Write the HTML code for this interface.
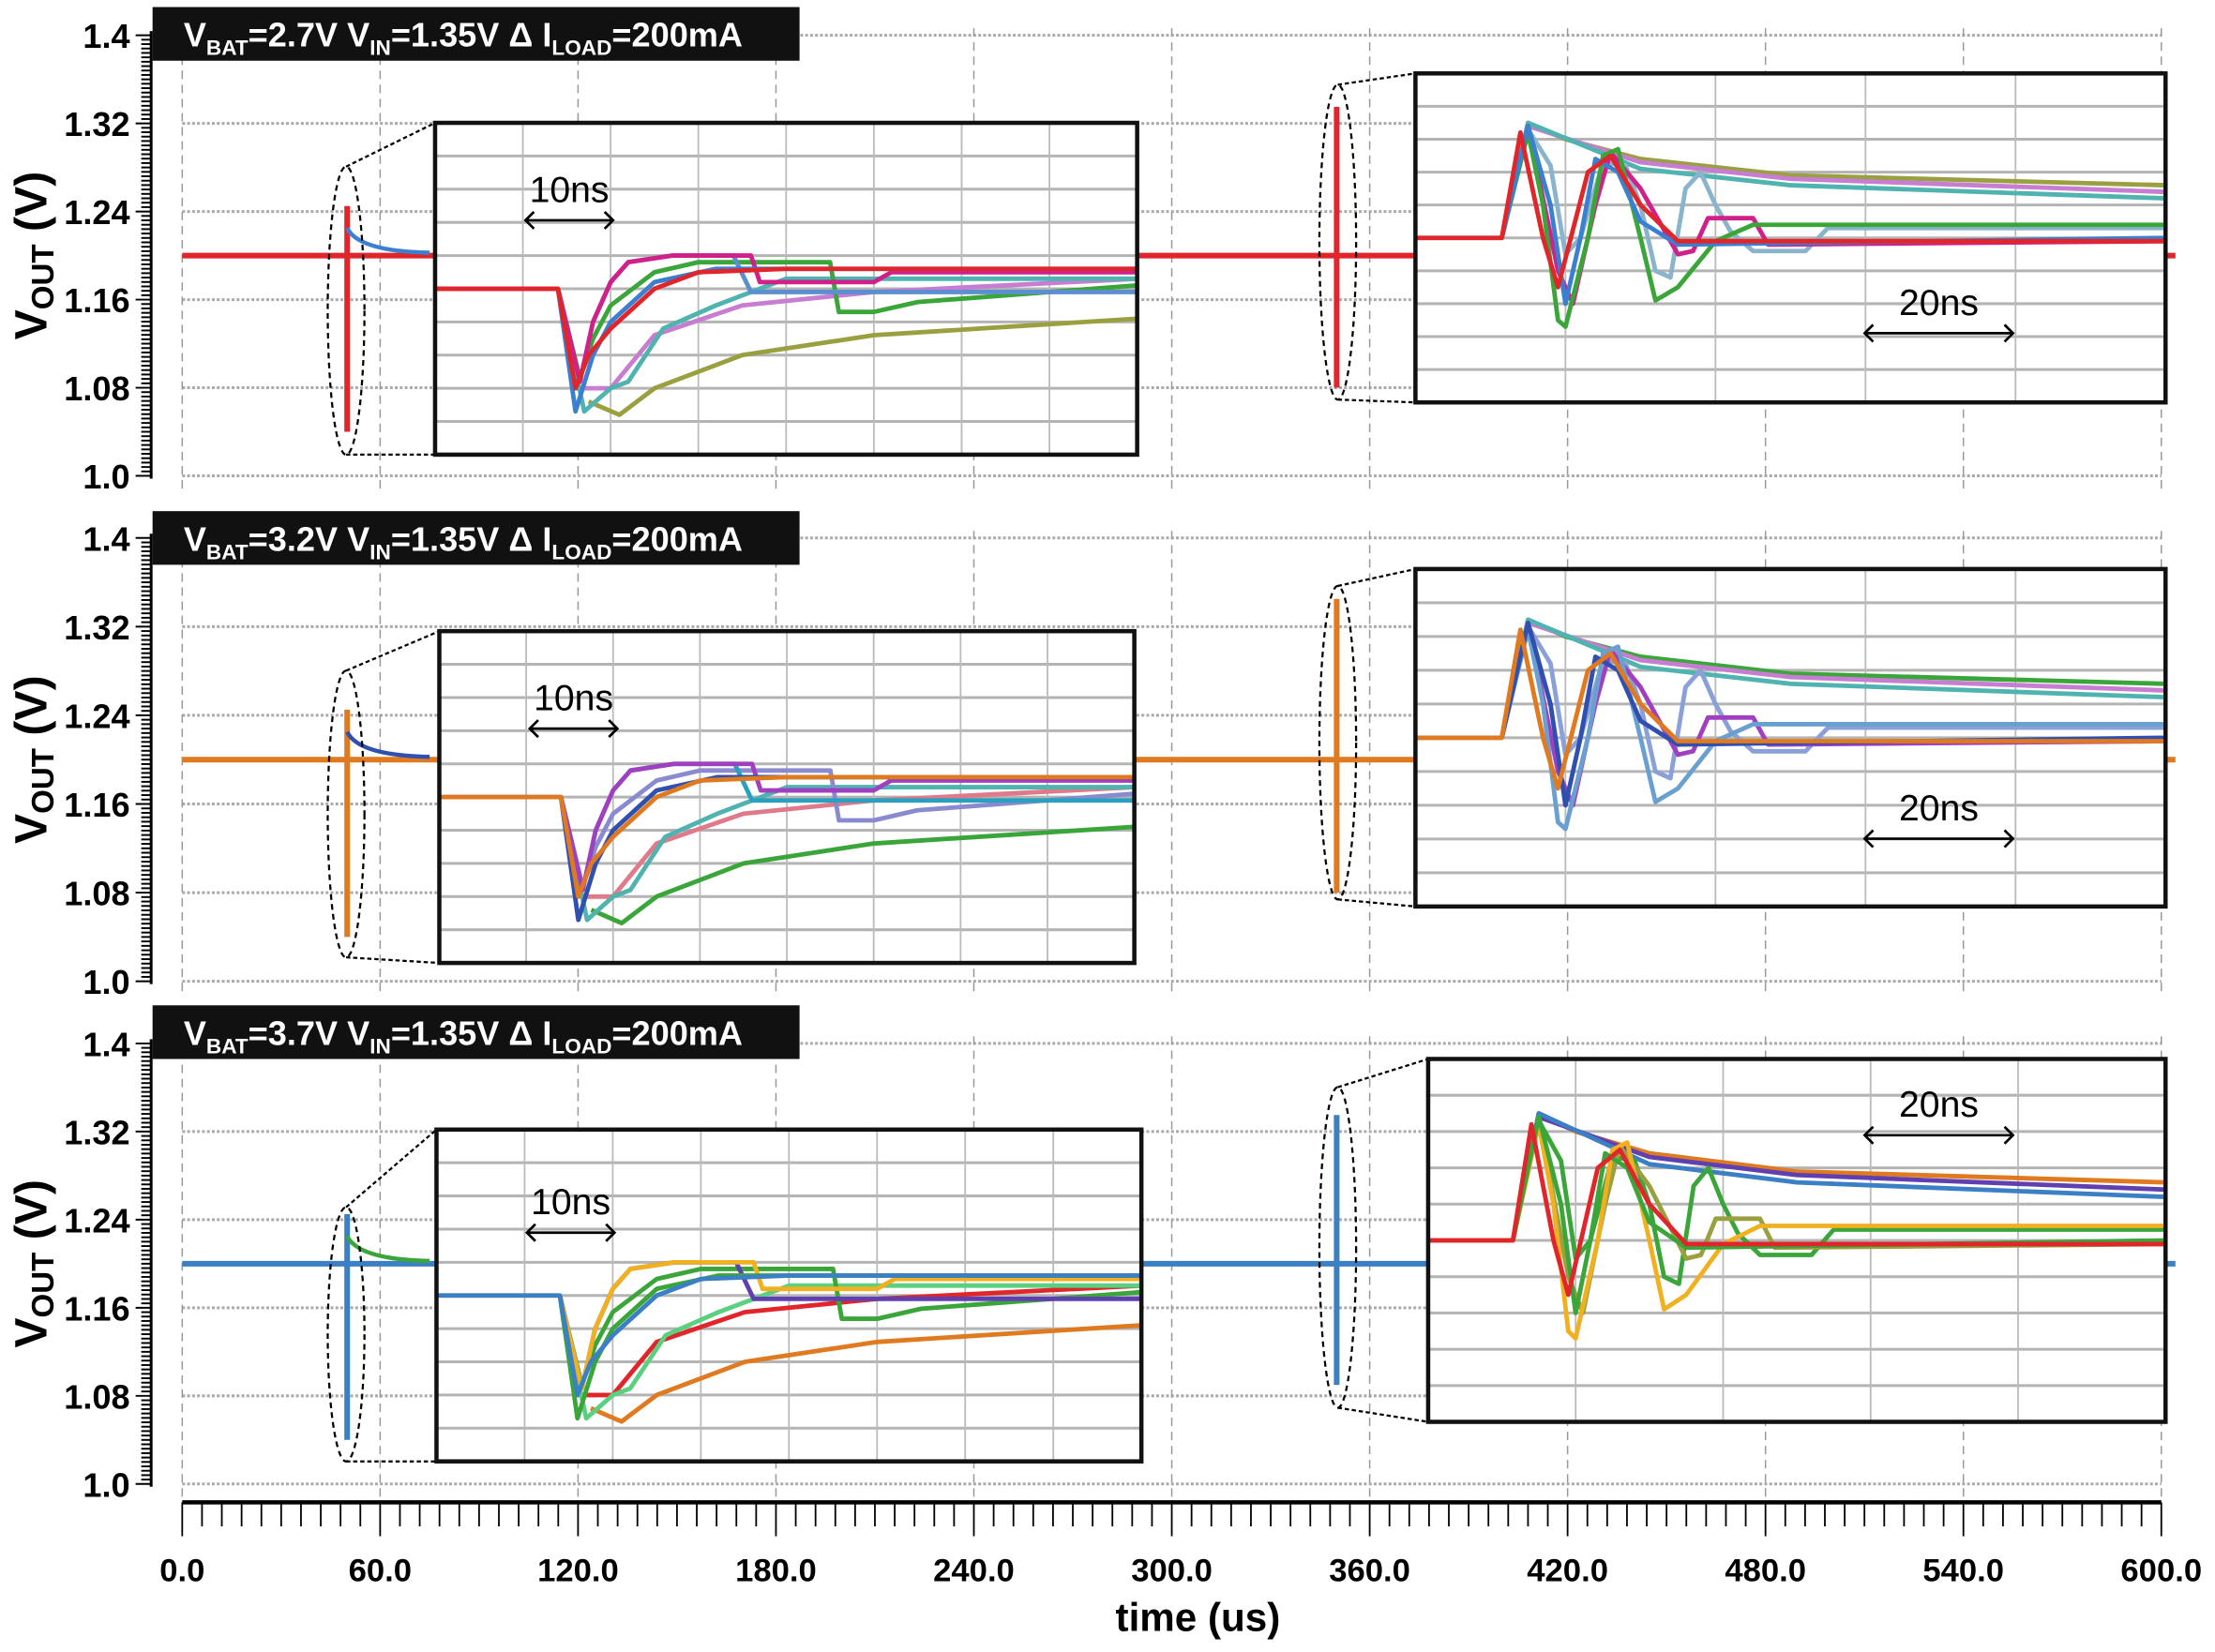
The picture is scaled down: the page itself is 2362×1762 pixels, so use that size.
<!DOCTYPE html>
<html><head><meta charset="utf-8"><style>
html,body{margin:0;padding:0;background:#fff;}
svg{display:block;}
text{font-family:"Liberation Sans Narrow","Liberation Sans",sans-serif;font-weight:bold;}
</style></head><body>
<svg id="chart" xmlns="http://www.w3.org/2000/svg" width="2362" height="1762" viewBox="0 0 1568 1170" preserveAspectRatio="none">
<rect x="0" y="0" width="1568" height="1170" fill="#fff"/>
</svg>
<script>
// ---- data ----
const yTicks = [1.0, 1.08, 1.16, 1.24, 1.32, 1.4];
const yTickLabels = ["1.0", "1.08", "1.16", "1.24", "1.32", "1.4"];
const xTicks = [0, 60, 120, 180, 240, 300, 360, 420, 480, 540, 600];
const xTickLabels = ["0.0", "60.0", "120.0", "180.0", "240.0", "300.0", "360.0", "420.0", "480.0", "540.0", "600.0"];
const vbatLabels = ["2.7V", "3.2V", "3.7V"];
const baseV = [1.2, 1.2, 1.2];
const spikeTimes = [50, 350];
const spikeHiLeft = [1.245, 1.245, 1.245];
const spikeLoLeft = [1.04, 1.04, 1.04];
const spikeHiRight = [1.335, 1.345, 1.335];
const spikeLoRight = [1.08, 1.08, 1.09];
// inset curves: [time ns, grid units (0 bottom..10 top)]
const leftCurveA = [[0,5],[14,5],[16,2],[17.5,3],[20,3.8],[25,5],[30,5.5],[40,5.6],[80,5.6]];
const leftCurveB = [[0,5],[14,5],[16.5,2.2],[18,4],[20,5.2],[22,5.8],[27,6],[36,6],[37,5.2],[50,5.2],[52,5.5],[80,5.5]];
const leftCurveC = [[14,5],[16.5,2.2],[18,4],[20,5.2],[22,5.8],[27,6],[34,6],[36,4.9],[80,4.9]];
const leftCurveD = [[14,5],[16.5,2.3],[18,3.5],[20,4.5],[25,5.5],[30,5.8],[45,5.8],[46,4.3],[50,4.3],[55,4.6],[80,5.1]];
const leftCurveE = [[14,5],[17,1.3],[20,2],[22,2.2],[26,3.8],[32,4.5],[40,5.3],[80,5.3]];
const leftCurveF = [[16,2],[20,2],[25,3.6],[35,4.5],[50,4.9],[80,5.3]];
const leftCurveG = [[17.5,1.6],[21,1.2],[25,2],[35,3],[50,3.6],[80,4.1]];
const leftCurveH = [[14,5],[16,1.3],[18,3.0],[20,4],[25,5.2],[32,5.6],[80,5.6]];
const rightCurveA = [[0,5],[11.5,5],[15,8.5],[20,8],[30,7.4],[50,6.9],[100,6.6]];
const rightCurveB = [[11.5,5],[15,8.5],[30,7.1],[50,6.6],[100,6.2]];
const rightCurveC = [[11.5,5],[15,8.2],[17,6],[19,2.5],[20,2.3],[23,5],[25,7.5],[27,7.7],[30,5],[32,3.1],[35,3.5],[40,4.9],[45,5.4],[100,5.4]];
const rightCurveD = [[11.5,5],[15,8.4],[18,6],[20,3],[22,5],[24,7.4],[27,7],[30,5.5],[35,4.8],[100,5.0]];
const rightCurveE = [[11.5,5],[15,8.4],[19,4],[21,3],[24,6],[26,7.6],[30,6.5],[35,4.5],[37,4.6],[39,5.6],[45,5.6],[47,4.8],[100,4.9]];
const rightCurveF = [[11.5,5],[15,8.3],[18,7.2],[20,4.5],[22,5],[25,7.3],[28,7.2],[30,6],[32,4],[34,3.8],[36,6.5],[38,7],[40,6],[42,5.2],[45,4.6],[52,4.6],[55,5.3],[100,5.3]];
const rightCurveG = [[0,5],[11.5,5],[14,8.2],[17,5],[19,3.5],[23,7],[26,7.5],[30,6],[35,4.9],[100,4.9]];
const rightCurveH = [[11.5,5],[15,8.4],[30,7.3],[50,6.8],[100,6.4]];
const leftCurves = [leftCurveG, leftCurveF, leftCurveE, leftCurveD, leftCurveC, leftCurveB, leftCurveH, leftCurveA];
const rightCurves = [rightCurveA, rightCurveH, rightCurveB, rightCurveF, rightCurveE, rightCurveC, rightCurveD, rightCurveG];

// ---- layout ----
const NS = "http://www.w3.org/2000/svg";
const svg = document.getElementById("chart");
const X0 = 129, X1 = 1530;
const panels = [
 {top:25, bot:337, tb:5, color:"#e0262b", li:{x:308,y:87,w:497,h:235}, ri:{x:1002,y:52,w:531,h:233}, le:{cx:245,y0:118,y1:322}, re:{cx:947,y0:60,y1:283},
  pal:["#9aa040","#c77dd1","#4fb3b0","#3aa63a","#5b8fd0","#d0208a","#3b7fd0","#e0262b"], rpal:["#9aa040","#c77dd1","#4fb3b0","#8ab4cc","#d0208a","#3aa63a","#3b7fd0","#e0262b"], arrowR:{y:236}},
 {top:381, bot:695, tb:362, color:"#e07a20", li:{x:311,y:447,w:492,h:235}, ri:{x:1002,y:403,w:531,h:239}, le:{cx:245,y0:475,y1:678}, re:{cx:947,y0:415,y1:637},
  pal:["#3aa63a","#e07a8a","#4fb3b0","#8a8ad0","#2aa0c0","#a040c0","#3050b0","#e07a20"], rpal:["#3aa63a","#c77dd1","#4fb3b0","#8aa0d8","#a040c0","#6aa0d0","#3050b0","#e07a20"], arrowR:{y:594}},
 {top:739, bot:1051, tb:712, color:"#3b7fc4", li:{x:309,y:800,w:499,h:235}, ri:{x:1011,y:750,w:522,h:257}, le:{cx:245,y0:855,y1:1035}, re:{cx:947,y0:770,y1:997},
  pal:["#e07a20","#e0262b","#5ad080","#3aa63a","#6040b0","#f0b020","#3aa63a","#3b7fc4"], rpal:["#e07a20","#6040b0","#3b7fc4","#3aa63a","#9aa040","#f0b020","#3aa63a","#e0262b"], arrowR:{y:804}}
];
const xs = t => X0 + t * (X1 - X0) / 600;

function el(tag, attrs, parent){ const e=document.createElementNS(NS,tag); for(const k in attrs) e.setAttribute(k,attrs[k]); (parent||svg).appendChild(e); return e; }
function pathOf(pts){ return pts.map((p,i)=>(i?"L":"M")+p[0].toFixed(1)+","+p[1].toFixed(1)).join(""); }

panels.forEach((P,pi)=>{
  const ys = v => P.bot - (v-1.0)/(0.4)*(P.bot-P.top);
  const g = el("g",{});
  
  
  // gridlines
  yTicks.forEach(v=>{ const l=el("line",{x1:X0,x2:X1,y1:ys(v),y2:ys(v),stroke:"#aaa","stroke-width":2,"stroke-dasharray":"2,1.5"},g);
      });
  xTicks.forEach(t=>{ const l=el("line",{x1:xs(t),x2:xs(t),y1:P.top-5,y2:P.bot+10,stroke:"#999","stroke-width":1,"stroke-dasharray":"6,4"},g);
      });
  // y axis + minor ticks
  const ax=el("line",{x1:107,x2:107,y1:P.top-3,y2:P.bot+2,stroke:"#000","stroke-width":2},g);
   
  for(let i=0;i<=100;i++){ const v=1.0+i*0.004; const t=el("line",{x1:(i%20===0)?96:100,x2:107,y1:ys(v),y2:ys(v),stroke:"#000","stroke-width":1.3},g);
      }
  yTicks.forEach((v,i)=>{ const t=el("text",{x:92,y:ys(v)+9,"font-size":"24","text-anchor":"end"},g); t.textContent=yTickLabels[i];
      });
  // y title
  const yt=el("text",{transform:`translate(33,${(P.top+P.bot)/2}) rotate(-90)`,"font-size":"32","font-family":"Liberation Sans","text-anchor":"middle"},g);
   
  yt.innerHTML='V<tspan font-size="22" dy="5">OUT</tspan><tspan dy="-5"> (V)</tspan>';
  // title box
  const tb=el("rect",{x:108,y:P.tb,width:458,height:38,fill:"#111"},g);
   
  const tt=el("text",{x:130,y:P.tb+28,"font-size":"24",fill:"#fff"},g);
   
  tt.innerHTML=`V<tspan font-size="15" dy="6">BAT</tspan><tspan dy="-6">=${vbatLabels[pi]} V</tspan><tspan font-size="15" dy="6">IN</tspan><tspan dy="-6">=1.35V  Δ I</tspan><tspan font-size="15" dy="6">LOAD</tspan><tspan dy="-6">=200mA</tspan>`;
  // main trace
  const yb=ys(baseV[pi]);
  const mt=el("line",{x1:X0,x2:1540,y1:yb,y2:yb,stroke:P.color,"stroke-width":4},g);
   
  const s1=el("line",{x1:xs(spikeTimes[0]),x2:xs(spikeTimes[0]),y1:ys(spikeHiLeft[pi]),y2:ys(spikeLoLeft[pi]),stroke:P.color,"stroke-width":4},g);
   
  const sd=el("path",{d:`M${xs(spikeTimes[0])},${ys(1.225)}Q${xs(spikeTimes[0])+8},${yb-3} ${xs(spikeTimes[0]+25)},${yb-2}`,fill:"none",stroke:P.pal[6],"stroke-width":3},g);
   
  const s2=el("line",{x1:xs(spikeTimes[1]),x2:xs(spikeTimes[1]),y1:ys(spikeHiRight[pi]),y2:ys(spikeLoRight[pi]),stroke:P.color,"stroke-width":4},g);
   
  // ellipses + connectors
  [[P.le,P.li],[P.re,P.ri]].forEach(([E,I],k)=>{
    const e=el("ellipse",{cx:E.cx,cy:(E.y0+E.y1)/2,rx:13,ry:(E.y1-E.y0)/2,fill:"none",stroke:"#000","stroke-width":1.5,"stroke-dasharray":"4,3"},g);
     
    const c=el("path",{d:`M${E.cx},${E.y0}L${I.x},${I.y}M${E.cx},${E.y1}L${I.x},${I.y+I.h}`,stroke:"#000","stroke-width":1.5,"stroke-dasharray":"3,2",fill:"none"},g);
     
  });
  // insets
  [[P.li,8,80,leftCurves,P.pal,"10ns"],[P.ri,5,100,rightCurves,P.rpal,"20ns"]].forEach(([I,cols,dur,curves,pal,lbl],k)=>{
    const ig=el("g",{},g);
    
    
    el("rect",{x:I.x,y:I.y,width:I.w,height:I.h,fill:"#fff"},ig);
    for(let r=1;r<10;r++){ el("line",{x1:I.x,x2:I.x+I.w,y1:I.y+r*I.h/10,y2:I.y+r*I.h/10,stroke:"#b4b4b4","stroke-width":2},ig); }
    for(let c=1;c<cols;c++){ el("line",{x1:I.x+c*I.w/cols,x2:I.x+c*I.w/cols,y1:I.y,y2:I.y+I.h,stroke:"#bbb","stroke-width":1.2},ig); }
    const ix=t=>I.x+t/dur*I.w, iy=v=>I.y+I.h-v/10*I.h;
    curves.forEach((cv,ci)=>{
      const p=el("path",{d:pathOf(cv.map(q=>[ix(q[0]),iy(q[1])])),fill:"none",stroke:pal[ci],"stroke-width":3.2,"stroke-linejoin":"round"},ig);
       
    });
    const b=el("rect",{x:I.x,y:I.y,width:I.w,height:I.h,fill:"none",stroke:"#111","stroke-width":3},ig);
     
    let ax1,ax2,ay;
    if(k===0){ ax1=I.x+64; ax2=I.x+126; ay=(pi===2)?I.y+73:I.y+69; }
    else { ax1=1320; ax2=1425; ay=P.arrowR.y; }
    const a=el("path",{d:`M${ax1},${ay}L${ax2},${ay}M${ax1+6},${ay-6}L${ax1},${ay}L${ax1+6},${ay+6}M${ax2-6},${ay-6}L${ax2},${ay}L${ax2-6},${ay+6}`,stroke:"#000","stroke-width":1.8,fill:"none"},ig);
     
    const at=el("text",{x:(ax1+ax2)/2,y:ay-13,"font-size":"26","font-weight":"normal","font-family":"Liberation Sans","text-anchor":"middle"},ig);
    at.style.fontWeight="normal";
    at.textContent=lbl;
     
  });
});

// x axis
const xa=el("line",{x1:X0,x2:X1,y1:1064,y2:1064,stroke:"#000","stroke-width":3});


for(let t=0;t<=600;t+=6){ const major=(t%60===0); const l=el("line",{x1:xs(t),x2:xs(t),y1:1064,y2:major?1088:1081,stroke:"#000","stroke-width":1.2});
  
   }
xTicks.forEach((t,i)=>{ const tx=el("text",{x:xs(t),y:1120,"font-size":"23","text-anchor":"middle"}); tx.textContent=xTickLabels[i];
  
   });
const xt=el("text",{x:848,y:1155,"font-size":"28","text-anchor":"middle"}); xt.textContent="time (us)";


</script>
</body></html>
